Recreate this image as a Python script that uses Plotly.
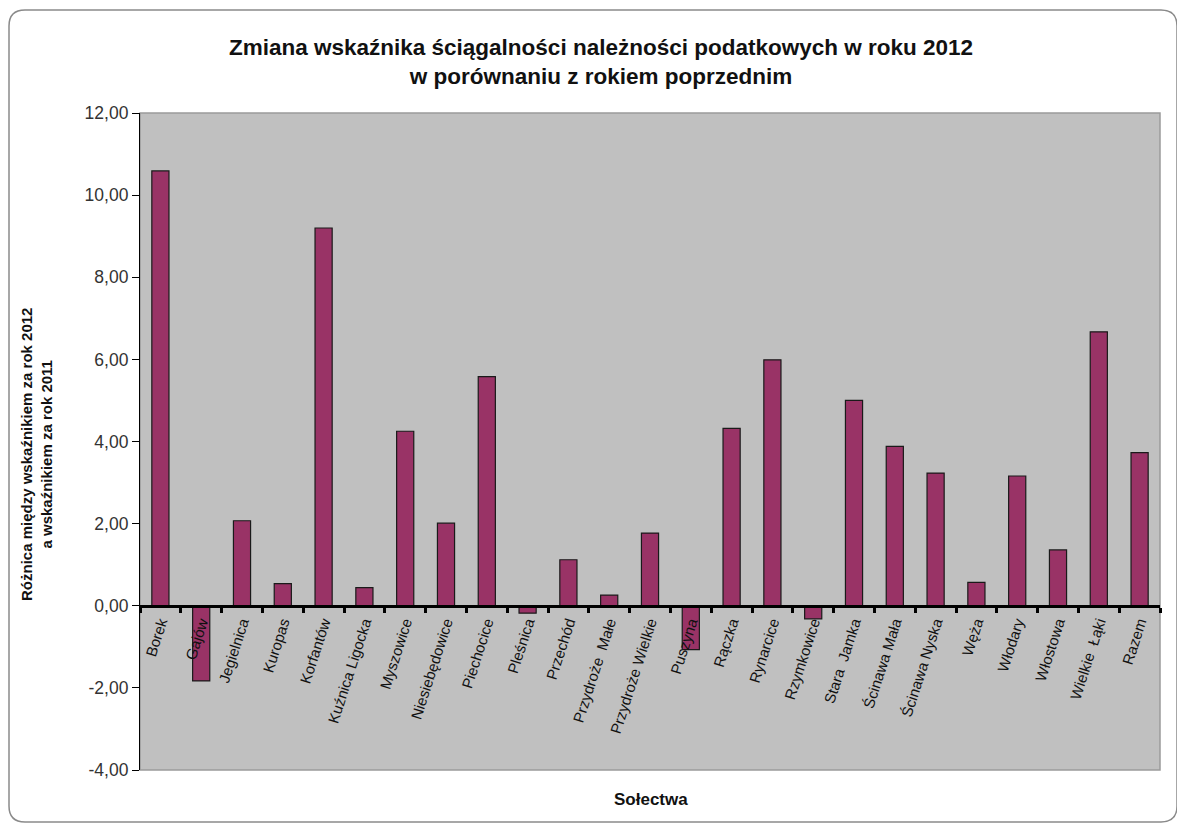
import plotly.graph_objects as go

categories = ["Borek", "Gajów", "Jegielnica", "Kuropas", "Korfantów", "Kuźnica Ligocka",
              "Myszowice", "Niesiebędowice", "Piechocice", "Pleśnica", "Przechód",
              "Przydroże  Małe", "Przydroże Wielkie", "Puszyna", "Rączka", "Rynarcice",
              "Rzymkowice", "Stara  Jamka", "Ścinawa Mała", "Ścinawa Nyska", "Węża",
              "Włodary", "Włostowa", "Wielkie  Łąki", "Razem"]
values = [10.59, -1.83, 2.07, 0.54, 9.20, 0.44, 4.25, 2.01, 5.58, -0.18, 1.12,
          0.26, 1.77, -1.07, 4.32, 5.99, -0.32, 5.00, 3.88, 3.23, 0.57, 3.16,
          1.36, 6.67, 3.73]
y_ticks = [-4, -2, 0, 2, 4, 6, 8, 10, 12]
y_tick_labels = ["-4,00", "-2,00", "0,00", "2,00", "4,00", "6,00", "8,00", "10,00", "12,00"]

title_text = ("<b>Zmiana wskaźnika ściągalności należności podatkowych w roku 2012<br>"
              "w porównaniu z rokiem poprzednim</b>")
y_title = "<b>Różnica między wskaźnikiem za rok 2012<br>a wskaźnikiem za rok 2011</b>"
x_title = "<b>Sołectwa</b>"

FONT = "Liberation Sans, Arial, sans-serif"
OFF = 8  # page body margin in the browser
W, H = 1185 - OFF, 827 - OFF
PL, PT, PR, PB = 140, 113, 1160, 770  # plot area in screen pixels
L, T = PL - OFF, PT - OFF
R, B = 1185 - PR, 827 - PB
PW, PH = PR - PL, PB - PT

def px(x):
    return (x - PL) / PW

def py(y):
    return (PB - y) / PH

fig = go.Figure()
fig.add_trace(go.Bar(
    x=categories, y=values,
    marker=dict(color="#993366", line=dict(color="#1a1a1a", width=1.2)),
    width=0.42,
))

# outer rounded border
x0, x1, y0, y1 = px(9), px(1177), py(10), py(822)
rx, ry = 16 / PW, 16 / PH
path = (f"M {x0+rx},{y0} L {x1-rx},{y0} Q {x1},{y0} {x1},{y0-ry} "
        f"L {x1},{y1+ry} Q {x1},{y1} {x1-rx},{y1} L {x0+rx},{y1} "
        f"Q {x0},{y1} {x0},{y1+ry} L {x0},{y0-ry} Q {x0},{y0} {x0+rx},{y0} Z")
shapes = [
    dict(type="path", xref="paper", yref="paper", path=path,
         line=dict(color="#8a8a8a", width=1.5), layer="below"),
    dict(type="rect", xref="paper", yref="paper", x0=0, x1=1, y0=0, y1=1,
         line=dict(color="#9a9a9a", width=1.5), layer="below"),
]

fig.update_layout(
    width=W, height=H,
    margin=dict(l=L, r=R, t=T, b=B),
    paper_bgcolor="white",
    plot_bgcolor="#C0C0C0",
    showlegend=False,
    font=dict(family=FONT, color="#222222"),
    title=dict(text=title_text, xref="container", x=(601 - OFF) / W, xanchor="center",
               yref="container", y=1 - (55 - OFF) / H, yanchor="top",
               font=dict(family=FONT, size=22.5, color="#111111")),
    xaxis=dict(
        type="category",
        anchor="free", position=0.25,
        showline=True, linecolor="black", linewidth=3,
        ticks="outside", tickson="boundaries", ticklen=5, tickwidth=3, tickcolor="black",
        tickangle=-72,
        tickfont=dict(family=FONT, size=15, color="#111111"),
        showgrid=False, zeroline=False,
        range=[-0.5, len(categories) - 0.5],
    ),
    yaxis=dict(
        range=[-4, 12], tickvals=y_ticks, ticktext=y_tick_labels,
        showline=True, linecolor="black", linewidth=1.2,
        ticks="outside", ticklen=7, tickcolor="black",
        tickfont=dict(family=FONT, size=17.5, color="#333333"),
        showgrid=False, zeroline=False,
    ),
    bargap=0.58,
    shapes=shapes,
    annotations=[
        dict(text=y_title, xref="paper", yref="paper", x=px(36), y=py(455),
             textangle=-90, showarrow=False, xanchor="center", yanchor="middle",
             font=dict(family=FONT, size=15, color="#111111")),
        dict(text=x_title, xref="paper", yref="paper", x=px(651), y=py(800),
             showarrow=False, xanchor="center", yanchor="middle",
             font=dict(family=FONT, size=17, color="#111111")),
    ],
)

fig.write_html("out.html")
